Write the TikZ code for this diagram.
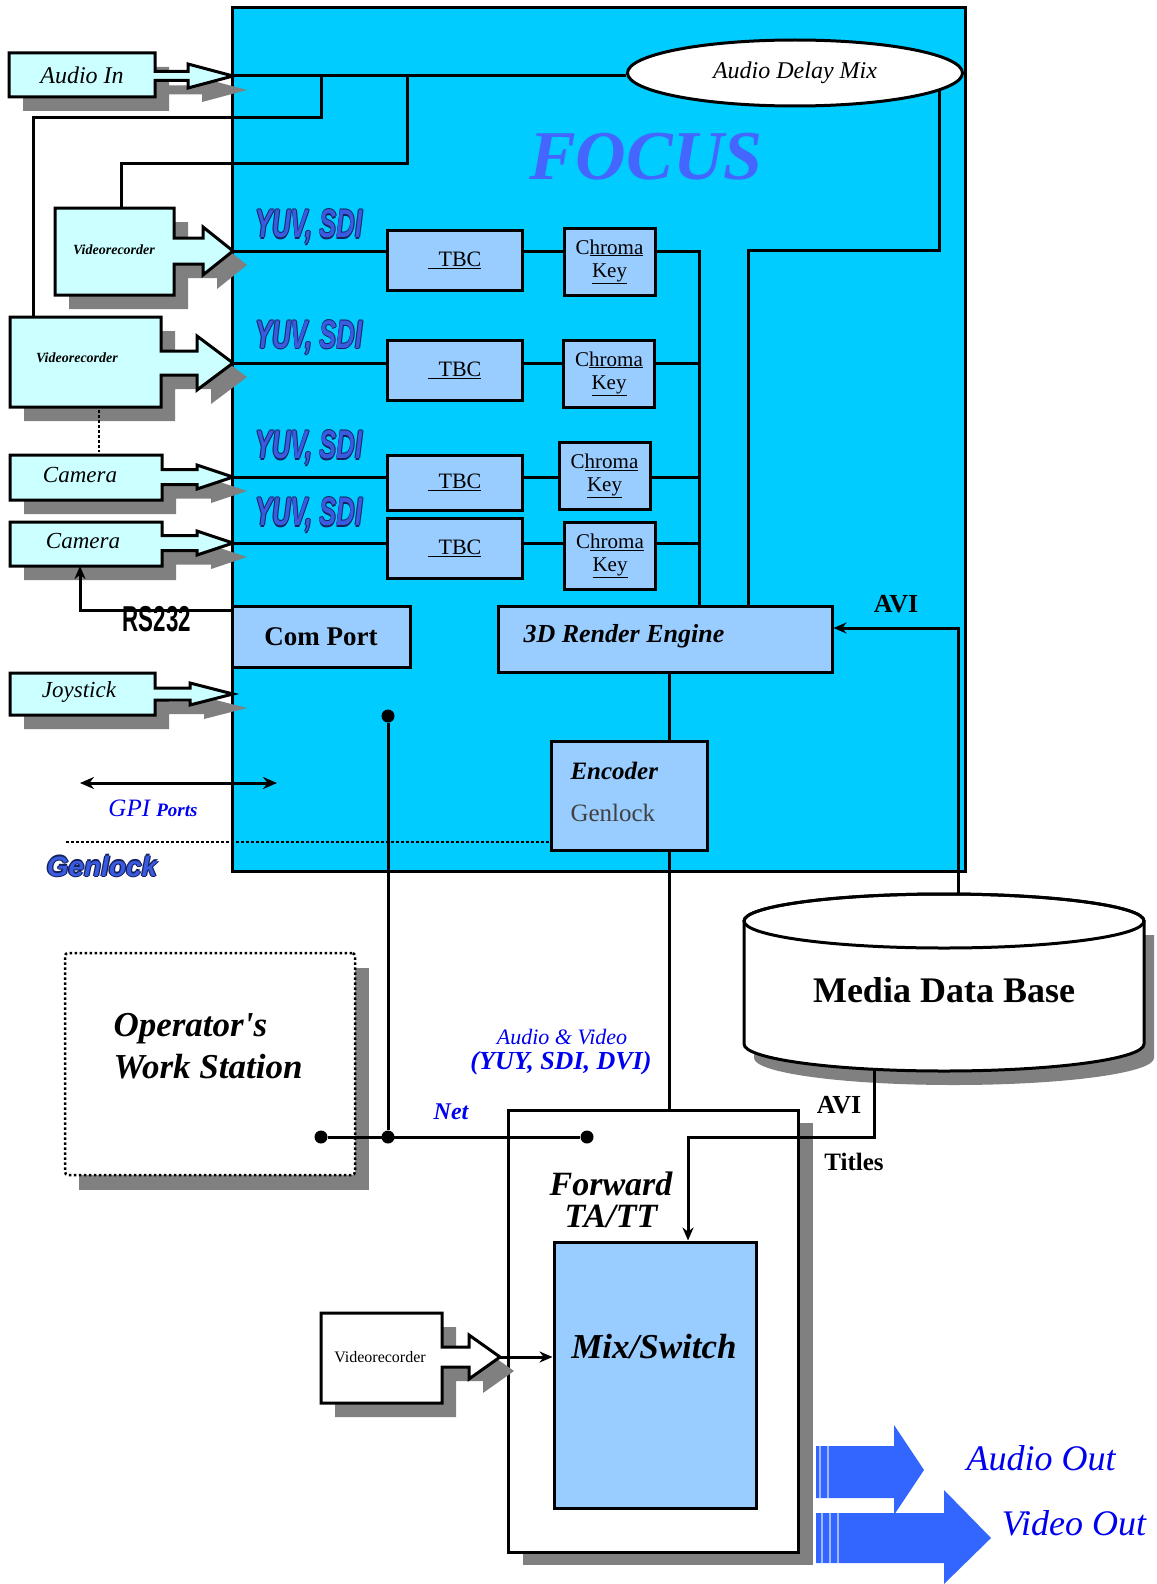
\documentclass[tikz,border=0pt]{standalone}
\usepackage{fontspec}
\usepackage{graphicx}
\setmainfont{Liberation Serif}[Ligatures=TeXOff]
\newfontfamily\sansfam{Liberation Sans}
\usetikzlibrary{positioning, calc, shapes.geometric, arrows.meta}
\definecolor{FocusCyan}{HTML}{00CCFF}
\definecolor{BlockBlue}{HTML}{99CCFF}
\definecolor{FeedCyan}{HTML}{CCFFFF}
\definecolor{ShadowGray}{HTML}{808080}
\definecolor{TitleBlue}{HTML}{4466FF}
\definecolor{LabelBlue}{HTML}{0000F0}
\definecolor{TagBlue}{HTML}{3A5BE0}
\definecolor{TagNavy}{HTML}{14215E}
\definecolor{OutBlue}{HTML}{3366FF}
\definecolor{StripeBlue}{HTML}{A0B8FF}

\newcommand{\fsz}[1]{\fontsize{#1}{#1}\selectfont}
\newcommand{\outlined}[3]{{\color{#2}\rlap{\hspace*{-1.3pt}#3}\rlap{\hspace*{1.3pt}#3}\rlap{\raisebox{1.3pt}{#3}}\rlap{\raisebox{-1.3pt}{#3}}}{\color{#1}#3}}
% box with hollow arrow: left, top, right, bottom, centre y, shaft, head, head x, tip x
\newcommand{\feedpath}[9]{(#1,#2) -- (#3,#2) -- (#3,#5-#6) -- (#8,#5-#6) -- (#8,#5-#7) -- (#9,#5) -- (#8,#5+#7) -- (#8,#5+#6) -- (#3,#5+#6) -- (#3,#4) -- (#1,#4) -- cycle}
\newcommand{\feed}[9]{%
  \fill[ShadowGray, shift={(14,14)}] \feedpath{#1}{#2}{#3}{#4}{#5}{#6}{#7}{#8}{#9};
  \draw[feedbody] \feedpath{#1}{#2}{#3}{#4}{#5}{#6}{#7}{#8}{#9};}

\tikzset{
  wire/.style={line width=3pt},
  dotwire/.style={line width=2.5pt, dash pattern=on 2.5pt off 2.5pt},
  feedbody/.style={draw, line width=3pt, fill=FeedCyan},
  block/.style={draw, line width=3pt, fill=BlockBlue, inner sep=0pt},
  feedtext/.style={font=\fsz{23}\itshape},
  vrtext/.style={font=\fsz{14}\bfseries\itshape},
  tagtext/.style={font=\sansfam\bfseries\itshape\fsz{40}},
  dot/.style={circle, fill, inner sep=0pt, minimum size=13pt},
  tip/.style={-{Stealth[length=13pt,width=11pt]}},
}

\begin{document}
\begin{tikzpicture}[x=1pt, y=-1pt]
    \useasboundingbox (0,0) rectangle (1156,1584);

    % FOCUS unit
    \node[draw, line width=3pt, fill=FocusCyan, minimum width=733pt, minimum height=863pt, inner sep=0pt] (focus) at (598.5,439.5) {};
    \node[text=TitleBlue, font=\fsz{70}\bfseries\itshape] (focuslbl) at (646,157) {FOCUS};
    \node[ellipse, draw, line width=3pt, fill=white, minimum width=335pt, minimum height=66pt, inner sep=0pt, font=\fsz{24}\itshape] (delay) at (795,73) {Audio Delay Mix};

    % sources
    \feed{9}{53}{155}{97}{76}{4.5}{12}{188}{233}
    \feed{55}{208}{174}{295}{251}{13}{24}{203}{233}
    \feed{10}{317}{161}{407}{363}{12}{27}{197}{233}
    \feed{10}{455}{162}{500}{477}{7.5}{12}{197}{233}
    \feed{10}{522}{162}{566}{543}{7.5}{12}{197}{233}
    \feed{10}{673}{155}{715}{694}{6}{11}{190}{233}
    \node[feedtext, font=\fsz{24}\itshape] (audioin) at (82,75) {Audio In};
    \node[vrtext] (vrec1) at (114,250) {Videorecorder};
    \node[vrtext] (vrec2) at (77,358) {Videorecorder};
    \node[feedtext] (camera1) at (80,475) {Camera};
    \node[feedtext] (camera2) at (83,541) {Camera};
    \node[feedtext] (joystick) at (79,692) {Joystick};

    \coordinate (ain) at (233,76);
    \coordinate (vr1) at (233,251);
    \coordinate (vr2) at (233,363);
    \coordinate (cam1) at (233,477);
    \coordinate (cam2) at (233,543);
    \coordinate (vr1top) at (121,208);
    \coordinate (vr2top) at (33,317);
    \coordinate (cam2bot) at (80,566);
    \coordinate (tapA) at (321,76);
    \coordinate (tapB) at (407,76);
    \coordinate (bus) at (699,0);
    \coordinate (mixbus) at (748,250);
    \coordinate (vline) at (669,0);

    % processing blocks
    \foreach \i/\y/\h in {1/260/60, 2/370/60, 3/482.5/55, 4/548/60}
        \node[block, minimum width=135pt, minimum height=\h pt, font=\fsz{22}] (tbc\i) at (454.5,\y) {\underline{\ \ TBC}};
    \foreach \i/\x/\y in {1/609.5/261.5, 2/609/373.5, 3/604.5/476, 4/610/556}
        \node[block, minimum width=91pt, minimum height=67pt, align=center, font=\fontsize{21}{23}\selectfont] (key\i) at (\x,\y) {C\underline{hroma}\\\underline{Key}};
    \foreach \i/\y in {1/227, 2/337.5, 3/448, 4/515}
        \node[tagtext] (yuv\i) at (309,\y) {\scalebox{0.64}[1]{\outlined{TagBlue}{TagNavy}{YUV, SDI}}};

    \node[block, minimum width=334pt, minimum height=66pt] (render) at (665,639) {};
    \node[anchor=west, font=\fsz{26}\bfseries\itshape] (renderlbl) at (520,636) {3D Render Engine};
    \node[block, minimum width=178pt, minimum height=61pt, font=\fsz{27}\bfseries] (comport) at (321,636.5) {Com Port};
    \node[block, minimum width=156pt, minimum height=109pt] (encoder) at (629,795.5) {};
    \node[anchor=west, font=\fsz{25}\bfseries\itshape] (enclbl) at (567,771) {Encoder};
    \node[anchor=west, font=\fsz{25}, text=black!75] (genlbl) at (567,813) {Genlock};

    % wiring inside FOCUS
    \draw[wire] (ain) -- (ain -| delay.west);
    \draw[wire] (tapA) |- (33,118) -- (vr2top);
    \draw[wire] (tapB) |- (121,163) -- (vr1top);
    \draw[wire] (vr1) -- (vr1 -| tbc1.west);
    \draw[wire] (vr2) -- (vr2 -| tbc2.west);
    \draw[wire] (cam1) -- (cam1 -| tbc3.west);
    \draw[wire] (cam2) -- (cam2 -| tbc4.west);
    \draw[wire] (vr1 -| tbc1.east) -- (vr1 -| key1.west);
    \draw[wire] (vr2 -| tbc2.east) -- (vr2 -| key2.west);
    \draw[wire] (cam1 -| tbc3.east) -- (cam1 -| key3.west);
    \draw[wire] (cam2 -| tbc4.east) -- (cam2 -| key4.west);
    \draw[wire] (vr1 -| key1.east) -- (vr1 -| bus) -- (bus |- render.north);
    \draw[wire] (vr2 -| key2.east) -- (vr2 -| bus);
    \draw[wire] (cam1 -| key3.east) -- (cam1 -| bus);
    \draw[wire] (cam2 -| key4.east) -- (cam2 -| bus);
    \draw[wire] (render.north -| mixbus) -- (mixbus) -| (delay.-7);
    \draw[wire] (render.south -| vline) -- (encoder.north -| vline);

    \draw[wire, tip] (232,610) -| (cam2bot);
    \node[font=\sansfam\bfseries\fsz{36}] (rslbl) at (157,619) {\scalebox{0.62}[1]{RS232}};
    \draw[dotwire] (99,410) -- (99,452);
    \draw[wire, {Stealth[length=14pt,width=12pt]}-{Stealth[length=14pt,width=12pt]}] (80,783) -- (277,783);
    \node[text=LabelBlue, font=\fsz{25}\itshape] (gpilbl) at (153,808) {GPI {\fsz{19}\bfseries Ports}};
    \coordinate (glk) at (66,842);
    \draw[dotwire] (glk) -- (glk -| encoder.west);
    \node[font=\sansfam\bfseries\itshape\fsz{28}] (genlocktag) at (102,866) {\outlined{TagBlue}{TagNavy}{Genlock}};

    % media data base
    \fill[ShadowGray, shift={(10,14)}] (744,921) -- (744,1044) arc[start angle=180, end angle=360, x radius=200pt, y radius=27pt] -- (1144,921) -- cycle;
    \draw[wire, fill=white] (744,921) -- (744,1044) arc[start angle=180, end angle=360, x radius=200pt, y radius=27pt] -- (1144,921) arc[start angle=0, end angle=180, x radius=200pt, y radius=27pt] -- cycle;
    \draw[wire] (944,921) ellipse [x radius=200pt, y radius=27pt];
    \node[font=\fsz{36}\bfseries] (db) at (944,990) {Media Data Base};
    \coordinate (dbtop) at (958,894);
    \coordinate (dbbot) at (874,1069);
    \draw[wire, tip] (dbtop) |- ([yshift=11pt]render.east);
    \node[font=\fsz{26}\bfseries] (avi1) at (896,604) {AVI};

    % operator's work station
    \fill[ShadowGray] (79,968) rectangle (369,1190);
    \node[draw, dotwire, fill=white, minimum width=290pt, minimum height=222pt, rounded corners=3pt] (ows) at (210,1064) {};
    \node[anchor=west, align=left, font=\fontsize{35}{42}\selectfont\bfseries\itshape] (owslbl) at (110,1046) {Operator's\\Work Station};

    % forward unit
    \fill[ShadowGray] (523,1123) rectangle (813,1565);
    \node[draw, line width=3pt, fill=white, minimum width=290pt, minimum height=442pt] (forward) at (653,1331) {};
    \node[block, minimum width=202pt, minimum height=266pt] (mix) at (655,1375) {};
    \node[font=\fsz{35}\bfseries\itshape] (mixlbl) at (654,1347) {Mix/Switch};
    \node[align=center, font=\fontsize{34}{32}\selectfont\bfseries\itshape] (fwdlbl) at (611,1200) {Forward\\TA/TT};
    \draw[wire] (encoder.south -| vline) -- (forward.north -| vline);

    \begin{scope}[feedbody/.append style={fill=white}]
        \feed{321}{1313}{442}{1403}{1357}{10}{22}{469}{500}
    \end{scope}
    \node[font=\fsz{16}] (vrec3) at (380,1357) {Videorecorder};
    \coordinate (vr3) at (500,1357);
    \draw[wire, tip] (vr3) -- (vr3 -| mix.west);

    \coordinate (mixin) at (688,1137);
    \draw[wire, tip] (dbbot) |- (mixin) -- (mixin |- mix.north);
    \node[font=\fsz{26}\bfseries] (avi2) at (839,1105) {AVI};
    \node[font=\fsz{25}\bfseries] (titles) at (854,1162) {Titles};

    % network
    \node[dot] (netA) at (388,716) {};
    \node[dot] (netB) at (388,1137) {};
    \node[dot] (netL) at (321,1137) {};
    \node[dot] (netR) at (587,1137) {};
    \draw[wire] (netA) -- (netB);
    \draw[wire] (netL) -- (netR);
    \node[text=LabelBlue, font=\fsz{24}\bfseries\itshape] (netlbl) at (451,1112) {Net};
    \node[text=LabelBlue, font=\fsz{22}\itshape] (avlbl) at (562,1037) {Audio \& Video};
    \node[text=LabelBlue, font=\fsz{26}\bfseries\itshape] (fmtlbl) at (561,1063) {(YUY, SDI, DVI)};

    % outputs
    \fill[OutBlue] (816,1446) -- (894,1446) -- (894,1425) -- (924,1470) -- (894,1515) -- (894,1498) -- (816,1498) -- cycle;
    \fill[OutBlue] (816,1513) -- (944,1513) -- (944,1490) -- (991,1538) -- (944,1584) -- (944,1563) -- (816,1563) -- cycle;
    \foreach \sx in {820,828}
        \draw[StripeBlue, line width=1.5pt] (\sx,1446) -- (\sx,1498);
    \foreach \sx in {822,830,838}
        \draw[StripeBlue, line width=1.5pt] (\sx,1513) -- (\sx,1563);
    \node[text=LabelBlue, font=\fsz{36}\itshape] (audioout) at (1041,1458) {Audio Out};
    \node[text=LabelBlue, font=\fsz{36}\itshape] (videoout) at (1074,1523) {Video Out};
\end{tikzpicture}
\end{document}
